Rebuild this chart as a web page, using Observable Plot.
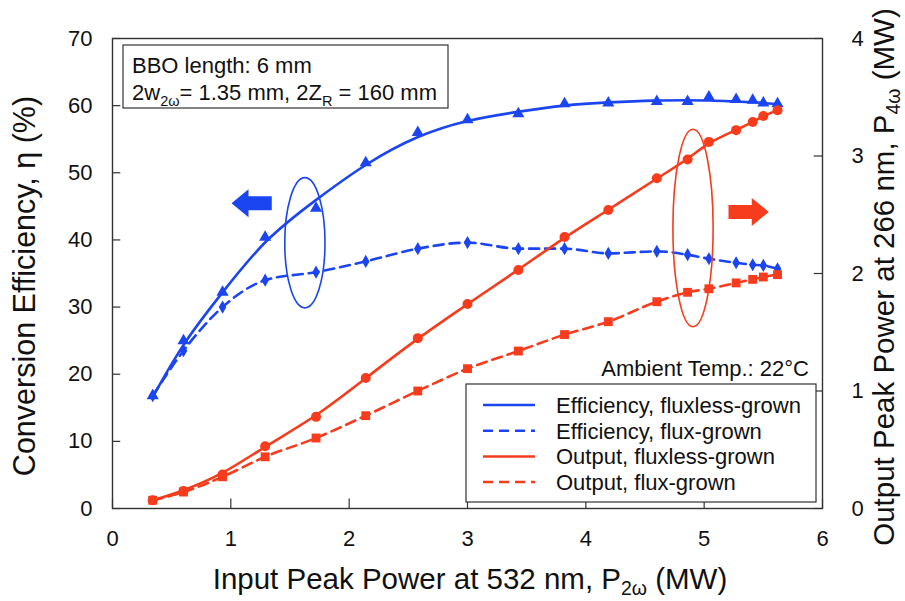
<!DOCTYPE html>
<html><head><meta charset="utf-8">
<script src="https://cdn.jsdelivr.net/npm/d3@7"></script>
<script src="https://cdn.jsdelivr.net/npm/@observablehq/plot@0.6"></script>
<style>body{margin:0;background:#fff}</style>
</head><body><div id="chart"></div>
<script>
// ---- data ----
const inputPower = [0.34, 0.6, 0.93, 1.29, 1.72, 2.14, 2.58, 3.0, 3.43, 3.82, 4.19, 4.6, 4.86, 5.04, 5.27, 5.41, 5.5, 5.62];
const effFluxless = [16.8, 25, 32.2, 40.4, 44.7, 51.5, 56, 57.9, 58.8, 60.3, 60.4, 60.6, 60.6, 61.3, 60.9, 60.8, 60.4, 60.3];
// smooth fitted curve drawn through the fluxless efficiency data
const effFluxlessFit = [16.6, 24.8, 32.2, 40.2, 46.0, 51.4, 55.6, 57.9, 59.1, 60.1, 60.5, 60.8, 60.8, 60.8, 60.6, 60.5, 60.4, 60.2];
const effFlux = [16.8, 23.5, 30, 34, 35.2, 36.8, 38.7, 39.6, 38.7, 38.7, 38, 38.3, 37.8, 37.2, 36.6, 36.3, 36.2, 35.7];
const outFluxless = [0.07, 0.15, 0.29, 0.53, 0.78, 1.11, 1.45, 1.74, 2.03, 2.31, 2.54, 2.81, 2.97, 3.12, 3.22, 3.29, 3.34, 3.39];
const outFlux = [0.07, 0.14, 0.27, 0.44, 0.6, 0.79, 1.0, 1.19, 1.34, 1.48, 1.59, 1.76, 1.84, 1.87, 1.92, 1.95, 1.97, 1.99];
const xTicks = [0, 1, 2, 3, 4, 5, 6];
const leftTicks = [0, 10, 20, 30, 40, 50, 60, 70];
const rightTicks = [0, 1, 2, 3, 4];
const legendLabels = ["Efficiency, fluxless-grown", "Efficiency, flux-grown", "Output, fluxless-grown", "Output, flux-grown"];
// annotations (data units, left axis)
const ellipses = [
  {cx: 1.63, cy: 39.5, rx: 0.17, ry: 9.7, color: "blue"},
  {cx: 4.91, cy: 41.7, rx: 0.17, ry: 14.7, color: "red"}
];
const arrows = [
  {tail: 1.35, tip: 1.01, y: 45.4, color: "blue"},
  {tail: 5.21, tip: 5.55, y: 44.1, color: "red"}
];

const BLUE = "#1b45f0";
const RED = "#f63c1c";
const colorOf = c => c === "blue" ? BLUE : RED;
const K = 70 / 4; // MW -> left-axis units
const FONT = "'Liberation Sans', Arial, Helvetica, sans-serif";

const rows = (ys, f = 1) => inputPower.map((x, i) => ({x, y: ys[i] * f}));
const dEffFluxless = rows(effFluxless);
const dEffFluxlessFit = rows(effFluxlessFit);
const dEffFlux = rows(effFlux);
const dOutFluxless = rows(outFluxless, K);
const dOutFlux = rows(outFlux, K);

function rich(g, x, y, parts, size, anchor = "start", transform = null, subShift = 0.28) {
  const t = g.append("text").attr("x", x).attr("y", y)
    .attr("font-size", size).attr("font-family", FONT).attr("fill", "#111")
    .attr("text-anchor", anchor);
  if (transform) t.attr("transform", transform);
  let shift = 0;
  for (const p of parts) {
    const s = t.append("tspan").text(p.t);
    if (p.sub) { s.attr("font-size", size * 0.66).attr("dy", size * subShift - shift); shift = size * subShift; }
    else { if (shift) s.attr("dy", -shift); shift = 0; }
  }
  return t;
}

const annotations = (index, scales, values, dim) => {
  const g = d3.create("svg:g");
  const {x, y} = scales;
  for (const e of ellipses) {
    g.append("ellipse").attr("cx", x(e.cx)).attr("cy", y(e.cy))
      .attr("rx", x(e.cx + e.rx) - x(e.cx)).attr("ry", y(e.cy) - y(e.cy + e.ry))
      .attr("fill", "none").attr("stroke", colorOf(e.color)).attr("stroke-width", 1.6);
  }
  for (const a of arrows) {
    const x0 = x(a.tail), x1 = x(a.tip), yy = y(a.y);
    const dir = Math.sign(x1 - x0), head = 17, hs = 7, hh = 14;
    const xb = x1 - dir * head;
    const pts = [[x0, yy - hs], [xb, yy - hs], [xb, yy - hh], [x1, yy], [xb, yy + hh], [xb, yy + hs], [x0, yy + hs]];
    g.append("polygon").attr("points", pts.map(p => p.join(",")).join(" ")).attr("fill", colorOf(a.color));
  }
  return g.node();
};

const texts = (index, scales, values, dim) => {
  const g = d3.create("svg:g");
  const L = dim.marginLeft, T = dim.marginTop, R = dim.width - dim.marginRight, B = dim.height - dim.marginBottom;
  // info box top-left
  g.append("rect").attr("x", L + 11).attr("y", T + 7).attr("width", 325).attr("height", 63)
    .attr("fill", "white").attr("stroke", "#333").attr("stroke-width", 1.2);
  rich(g, L + 20, T + 35, [{t: "BBO length: 6 mm"}], 22);
  rich(g, L + 20, T + 62, [{t: "2w"}, {t: "2ω", sub: true}, {t: "= 1.35 mm, 2Z"}, {t: "R", sub: true}, {t: " = 160 mm"}], 22);
  // ambient temp
  rich(g, R - 13, T + 338, [{t: "Ambient Temp.: 22°C"}], 22, "end");
  // legend
  const lx = L + 354, ly = T + 346, lw = 350, lh = 118;
  g.append("rect").attr("x", lx).attr("y", ly).attr("width", lw).attr("height", lh)
    .attr("fill", "white").attr("stroke", "#333").attr("stroke-width", 1.2);
  const styles = [[BLUE, null], [BLUE, "10,6"], [RED, null], [RED, "10,6"]];
  legendLabels.forEach((lab, i) => {
    const yy = ly + 21 + i * 25.7;
    const ln = g.append("line").attr("x1", lx + 17).attr("x2", lx + 69).attr("y1", yy).attr("y2", yy)
      .attr("stroke", styles[i][0]).attr("stroke-width", 2.5);
    if (styles[i][1]) ln.attr("stroke-dasharray", styles[i][1]);
    rich(g, lx + 90, yy + 8, [{t: lab}], 22);
  });
  // axis titles
  rich(g, (L + R) / 2 + 3, 589, [{t: "Input Peak Power at 532 nm, P"}, {t: "2ω", sub: true}, {t: " (MW)"}], 29.5, "middle", null, 0.2);
  rich(g, 0, 0, [{t: "Conversion Efficiency, η (%)"}], 30.5, "middle", `translate(35,286) rotate(-90)`);
  rich(g, 0, 0, [{t: "Output Peak Power at 266 nm, P"}, {t: "4ω", sub: true}, {t: " (MW)"}], 29.5, "middle", `translate(894,277) rotate(-90)`, 0.2);
  return g.node();
};

const chart = Plot.plot({
  width: 905, height: 601,
  marginLeft: 112, marginRight: 83, marginTop: 38, marginBottom: 93,
  x: {domain: [0, 6]},
  y: {domain: [0, 70]},
  style: {fontFamily: FONT, fontSize: "22px", color: "#111", background: "white"},
  marks: [
    Plot.ruleX(xTicks, {x: d => d, y1: 0, y2: 1.4, stroke: "#333", strokeWidth: 1.2}),
    Plot.ruleY(leftTicks, {y: d => d, x1: 0, x2: 0.07, stroke: "#333", strokeWidth: 1.2}),
    Plot.ruleY(rightTicks.map(v => v * K), {y: d => d, x1: 5.93, x2: 6, stroke: "#333", strokeWidth: 1.2}),
    Plot.axisX({ticks: xTicks, tickSize: 0, tickPadding: 22, label: null, tickFormat: d => d}),
    Plot.axisY({ticks: leftTicks, tickSize: 0, tickPadding: 20, label: null}),
    Plot.axisY({anchor: "right", ticks: rightTicks.map(v => v * K), tickSize: 0, tickPadding: 29, label: null, tickFormat: d => Math.round(d / K)}),
    Plot.line(dEffFluxlessFit, {x: "x", y: "y", stroke: BLUE, strokeWidth: 2.6, curve: "basis"}),
    Plot.line(dEffFlux, {x: "x", y: "y", stroke: BLUE, strokeWidth: 2.6, strokeDasharray: "10,6", curve: "monotone-x"}),
    Plot.line(dOutFluxless, {x: "x", y: "y", stroke: RED, strokeWidth: 2.6, curve: "basis"}),
    Plot.line(dOutFlux, {x: "x", y: "y", stroke: RED, strokeWidth: 2.6, strokeDasharray: "10,6", curve: "monotone-x"}),
    Plot.dot(dEffFluxless, {x: "x", y: "y", symbol: "triangle", fill: BLUE, r: 4.5}),
    Plot.dot(dEffFlux, {x: "x", y: "y", symbol: "diamond", fill: BLUE, r: 4}),
    Plot.dot(dOutFluxless, {x: "x", y: "y", symbol: "circle", fill: RED, r: 5}),
    Plot.dot(dOutFlux, {x: "x", y: "y", symbol: "square", fill: RED, r: 5}),
    annotations,
    texts,
    Plot.frame({stroke: "#333", strokeWidth: 1.4})
  ]
});
document.getElementById("chart").appendChild(chart);
</script></body></html>
